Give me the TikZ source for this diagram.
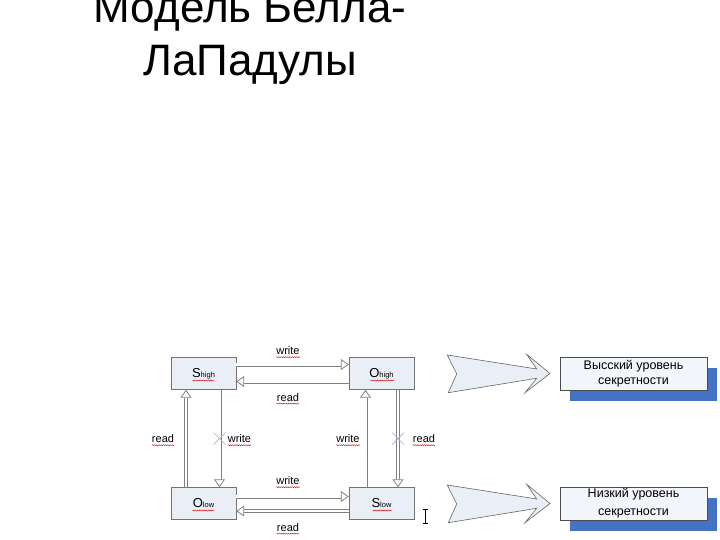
\documentclass[tikz,border=0pt]{standalone}
\usepackage{fontspec}
\setmainfont{Liberation Sans}
\usetikzlibrary{arrows.meta,calc,decorations.pathmorphing,shadows,positioning}
\definecolor{boxblue}{RGB}{233,238,247}
\definecolor{shadowblue}{RGB}{68,114,196}
\definecolor{crossblue}{RGB}{160,180,205}
\newcommand{\lvname}[2]{{\fontsize{13}{14}\selectfont #1}{\fontsize{7.5}{8}\selectfont #2}}

\begin{document}
\begin{tikzpicture}[x=1pt,y=-1pt,
  lvl/.style={draw=gray!90!black, fill=boxblue, minimum width=65pt, minimum height=32pt, inner sep=0pt},
  acc/.style={draw=gray, line width=0.8pt, double=white, double distance=2.4pt,
    -{Triangle[open, fill=white, length=8pt, width=11pt, line width=0.8pt]}},
  lbl/.style={inner sep=0pt, text depth=0pt, font=\fontsize{11}{11}\selectfont},
  squiggle/.style={draw=red!85!black, line width=0.4pt, decorate, decoration={snake, amplitude=0.5pt, segment length=2.2pt}},
  cross/.style={draw=crossblue, line width=0.7pt},
  big/.style={draw=gray!80!black, fill=boxblue, line width=0.6pt},
  lvltxt/.style={draw=black!70, fill=boxblue!60, minimum width=147pt, minimum height=33pt, inner sep=0pt, align=center,
    font=\fontsize{12.5}{15}\selectfont,
    drop shadow={shadow xshift=10pt, shadow yshift=-10.5pt, fill=shadowblue, opacity=1}}
]
\useasboundingbox (0,0) rectangle (720,540);

% title
\node[font=\fontsize{44}{53}\selectfont, anchor=base, inner sep=0pt] (title1) at (250,23) {Модель Белла-};
\node[font=\fontsize{44}{53}\selectfont, anchor=base, inner sep=0pt] (title2) at (250,76) {ЛаПадулы};

% subjects and objects
\node[lvl] (shigh) at (203.5,373.5) {\lvname{S}{high}};
\node[lvl] (ohigh) at (381.5,373.5) {\lvname{O}{high}};
\node[lvl] (olow) at (203.5,503.5) {\lvname{O}{low}};
\node[lvl] (slow) at (381.5,503.5) {\lvname{S}{low}};
\draw[squiggle] ($(shigh.center)+(-11,7)$) -- ($(shigh.center)+(11,7)$);
\draw[squiggle] ($(ohigh.center)+(-11,7)$) -- ($(ohigh.center)+(13,7)$);
\draw[squiggle] ($(olow.center)+(-11,7)$) -- ($(olow.center)+(11,7)$);
\draw[squiggle] ($(slow.center)+(-9,7)$) -- ($(slow.center)+(10,7)$);

\draw[acc] ([yshift=9]shigh.east) -- ([yshift=9]ohigh.west);
\draw[acc] ([yshift=-8]ohigh.west) -- ([yshift=-8]shigh.east);
\draw[acc] ([yshift=7]olow.east) -- ([yshift=7]slow.west);
\draw[acc] ([yshift=-7.5]slow.west) -- ([yshift=-7.5]olow.east);
\draw[acc] ([xshift=-17.5]olow.north) -- ([xshift=-17.5]shigh.south);
\draw[acc] ([xshift=16]shigh.south) -- coordinate (xl) ([xshift=16]olow.north);
\draw[acc] ([xshift=-16]slow.north) -- ([xshift=-16]ohigh.south);
\draw[acc] ([xshift=16.5]ohigh.south) -- coordinate (xr) ([xshift=16.5]slow.north);
\draw[cross] ($(xl)+(-6,-6)$) -- ($(xl)+(6,6)$) ($(xl)+(-6,6)$) -- ($(xl)+(6,-6)$);
\draw[cross] ($(xr)+(-6,-6)$) -- ($(xr)+(6,6)$) ($(xr)+(-6,6)$) -- ($(xr)+(6,-6)$);

\node[lbl] (wtop) at (288,351) {write};
\node[lbl] (rtop) at (288,397.5) {read};
\node[lbl] (rleft) at (163,439) {read};
\node[lbl] (wleft) at (239.5,439) {write};
\node[lbl] (wright) at (348,439) {write};
\node[lbl] (rright) at (424,439) {read};
\node[lbl] (wbot) at (288,481) {write};
\node[lbl] (rbot) at (288,527.5) {read};
\foreach \n in {wtop,rtop,rleft,wleft,wright,rright,wbot,rbot}
  \draw[squiggle] ([yshift=-2]\n.south west) -- ([yshift=-2]\n.south east);

% levels
\draw[big] (447.3,355) -- (536.7,369) -- (526.7,354.3) -- (550,373.5) -- (525,392.7) -- (536.7,378.3) -- (448.3,392.7) -- (456.7,374) -- cycle;
\draw[big] (447.3,485) -- (536.7,499) -- (526.7,484.3) -- (550,503.5) -- (525,522.7) -- (536.7,508.3) -- (448.3,522.7) -- (456.7,504) -- cycle;
\node[lvltxt] (hilvl) at (633.5,373.5) {Высский уровень\\секретности};
\node[lvltxt] (lolvl) at (633.5,503.5) {Низкий уровень\\[3pt]секретности};

\draw[line width=0.8pt] (425,509.5) -- (425,523.5) (422.5,509.5) -- (427.5,509.5) (422.5,523.5) -- (427.5,523.5);
\end{tikzpicture}
\end{document}
